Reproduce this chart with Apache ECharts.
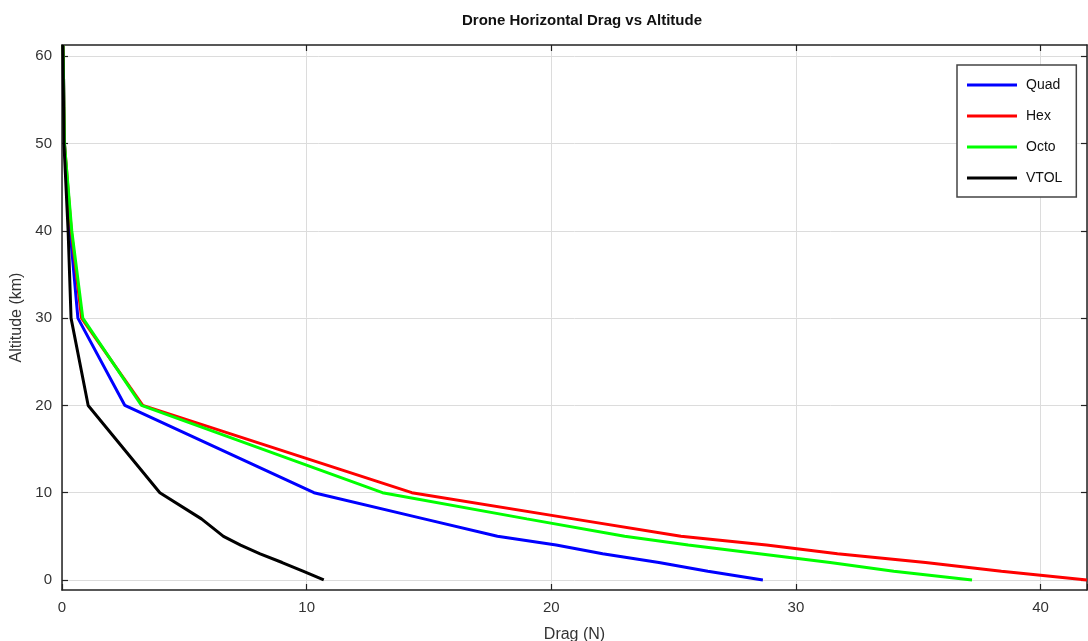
<!DOCTYPE html>
<html>
<head>
<meta charset="utf-8">
<script src="https://cdn.jsdelivr.net/npm/echarts@6/dist/echarts.min.js"></script>
<style>
  html, body { margin: 0; padding: 0; background: #fff; }
  #chart { width: 1088px; height: 641px; }
</style>
</head>
<body>
<div id="chart"></div>
<script>
// altitude (km) and drag (N)
const altitude = [0, 1, 2, 3, 4, 5, 7, 10, 20, 30, 40, 50, 60, 61.3];
const quad = [28.65, 26.4, 24.4, 22.1, 20.2, 17.8, 14.8, 10.3, 2.57, 0.65, 0.33, 0.1, 0.05, 0.04];
const hex  = [41.9, 38.4, 35.3, 31.7, 28.8, 25.3, 20.9, 14.3, 3.3, 0.8, 0.38, 0.1, 0.05, 0.04];
const octo = [37.2, 34.0, 31.4, 28.5, 25.6, 23.0, 19.0, 13.1, 3.25, 0.85, 0.4, 0.1, 0.05, 0.04];
const vtol = [10.7, 9.85, 9.0, 8.1, 7.3, 6.6, 5.7, 4.0, 1.07, 0.37, 0.25, 0.08, 0.04, 0.03];
const xTicks = [0, 10, 20, 30, 40];
const yTicks = [0, 10, 20, 30, 40, 50, 60];

const names = ['Quad', 'Hex', 'Octo', 'VTOL'];
const values = [quad, hex, octo, vtol];
const colors = ['#0000ff', '#ff0000', '#00ff00', '#000000'];

const chart = echarts.init(document.getElementById('chart'));
const font = '"Liberation Sans", Arial, Helvetica, sans-serif';

const tickStyle = { inside: true, length: 6, lineStyle: { color: '#222', width: 1.2 } };
const boxLine = { show: true, onZero: false, lineStyle: { color: '#222', width: 1.5 } };

const option = {
  backgroundColor: '#fff',
  animation: false,
  title: {
    text: 'Drone Horizontal Drag vs Altitude',
    left: 577, top: 8, textAlign: 'center',
    textStyle: { fontFamily: font, fontSize: 15, fontWeight: 'bold', color: '#111' }
  },
  legend: {
    orient: 'vertical',
    left: 957, top: 65,
    padding: [13, 14, 12, 10],
    itemWidth: 50, itemHeight: 3, itemGap: 17,
    icon: 'rect',
    borderColor: '#444', borderWidth: 1.5,
    backgroundColor: '#fff',
    textStyle: { fontFamily: font, fontSize: 14, color: '#111', padding: [0, 0, 0, 4] },
    data: names
  },
  grid: { left: 62, right: 1, top: 45, bottom: 51, containLabel: false, outerBoundsMode: 'none' },
  xAxis: [{
    type: 'value', min: 0, max: 41.9, interval: 10,
    name: 'Drag (N)', nameLocation: 'middle', nameGap: 37,
    nameTextStyle: { fontFamily: font, fontSize: 16, color: '#333' },
    axisLine: boxLine,
    axisTick: tickStyle,
    axisLabel: {
      fontFamily: font, fontSize: 15, color: '#333', margin: 10,
      customValues: xTicks
    },
    splitLine: { show: true, customValues: xTicks, lineStyle: { color: '#dcdcdc', width: 1 } }
  }, {
    type: 'value', position: 'top', min: 0, max: 41.9, interval: 10,
    axisLine: boxLine,
    axisTick: Object.assign({ customValues: xTicks }, tickStyle),
    axisLabel: { show: false }, splitLine: { show: false }
  }],
  yAxis: [{
    type: 'value', min: -1.15, max: 61.3, interval: 10,
    name: 'Altitude (km)', nameLocation: 'middle', nameGap: 34, nameRotate: 90,
    nameTextStyle: { fontFamily: font, fontSize: 16, color: '#333' },
    axisLine: boxLine,
    axisTick: Object.assign({ customValues: yTicks }, tickStyle),
    axisLabel: {
      fontFamily: font, fontSize: 15, color: '#333', margin: 10,
      customValues: yTicks
    },
    splitLine: { show: true, customValues: yTicks, lineStyle: { color: '#dcdcdc', width: 1 } }
  }, {
    type: 'value', position: 'right', min: -1.15, max: 61.3, interval: 10,
    axisLine: boxLine,
    axisTick: Object.assign({ customValues: yTicks }, tickStyle),
    axisLabel: { show: false }, splitLine: { show: false }
  }],
  series: names.map((n, i) => ({
    name: n,
    type: 'line',
    xAxisIndex: 0, yAxisIndex: 0,
    symbol: 'none',
    color: colors[i],
    lineStyle: { color: colors[i], width: 3 },
    data: values[i].map((v, k) => [v, altitude[k]])
  }))
};

chart.setOption(option);
</script>
</body>
</html>
